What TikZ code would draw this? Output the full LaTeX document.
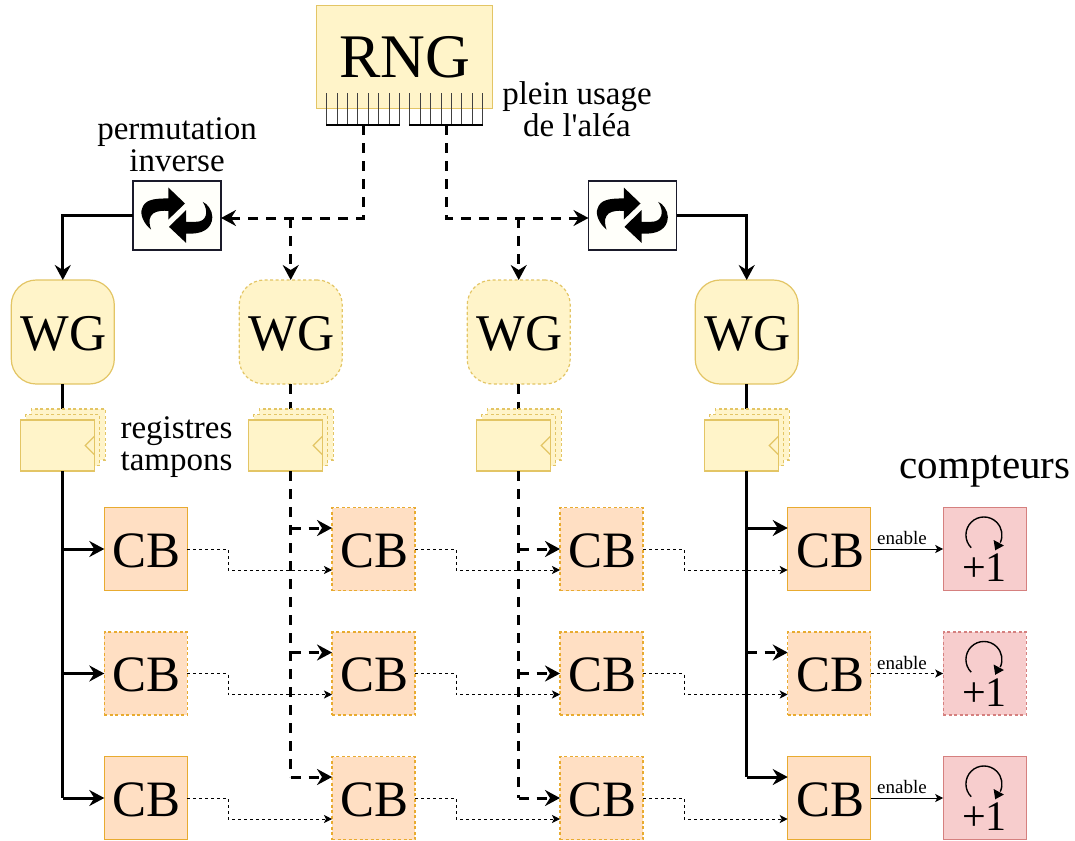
\documentclass[tikz,border=0pt]{standalone}
\usepackage{fontspec}
\setmainfont[Ligatures=TeXOff]{Liberation Serif}
\usetikzlibrary{arrows.meta,calc}
\definecolor{yf}{HTML}{FFF4C9}
\definecolor{ys}{HTML}{E3C565}
\definecolor{of}{HTML}{FFDFC3}
\definecolor{os}{HTML}{E8AB30}
\definecolor{rf}{HTML}{F7CDCD}
\definecolor{rs}{HTML}{D5807F}
\definecolor{pb}{HTML}{1A1A2A}
\newcommand{\permicon}[1]{%
\begin{scope}[shift={(#1)},x=0.3333pt,y=-0.3333pt]
\fill (-26,-84) -- (24,-36) -- (-26,12) -- (-26,-14) .. controls (-60,-16) and (-95,-10) .. (-78,42) .. controls (-100,25) and (-112,-5) .. (-105,-20) .. controls (-98,-45) and (-75,-52) .. (-26,-51) -- cycle;
\fill (27,-16) -- (-24,34) -- (27,82) -- (27,54) .. controls (75,58) and (105,40) .. (106,5) .. controls (106,-15) and (92,-35) .. (77,-41) .. controls (95,-15) and (92,20) .. (55,19) -- (27,19) -- cycle;
\end{scope}}
\tikzset{
 x=1pt,y=-1pt,
 every node/.style={font=\fontsize{33}{33}\selectfont,inner sep=0pt,outer sep=0pt},
 yb/.style={draw=ys,fill=yf,line width=1.2pt},
 rngbox/.style={yb,minimum width=176pt,minimum height=103pt,font=\fontsize{62}{62}\selectfont},
 wgbox/.style={yb,rounded corners=25pt,minimum width=103pt,minimum height=104pt,text height=36pt,text depth=0pt,font=\fontsize{51.5}{51.5}\selectfont},
 regbox/.style={yb,minimum width=74pt,minimum height=51pt},
 regback/.style={regbox,dsh},
 cbbox/.style={draw=os,fill=of,line width=1.2pt,minimum width=83pt,minimum height=83pt,text height=36pt,text depth=0pt,font=\fontsize{51}{51}\selectfont},
 ctbox/.style={draw=rs,fill=rf,line width=1.2pt,minimum width=83pt,minimum height=83pt},
 dsh/.style={dash pattern=on 3pt off 2.5pt},
 permbox/.style={draw=pb,fill=white!98!yellow,line width=1.2pt,minimum width=88pt,minimum height=69pt},
 thick line/.style={line width=3pt,-{Stealth[length=15pt,width=16pt,inset=5pt]}},
 bigdash/.style={dash pattern=on 10pt off 8pt},
 plainline/.style={line width=3pt},
 thin link/.style={line width=1pt,-{Stealth[length=8pt,width=8pt,inset=2pt]}},
 thin dash/.style={thin link,dash pattern=on 3pt off 3pt},
 tick/.style={line width=1pt,black!75},
 lab/.style={align=center},
 en/.style={font=\fontsize{19}{19}\selectfont},
 plusone/.style={font=\fontsize{42}{42}\selectfont},
}
\begin{document}
\begin{tikzpicture}
\useasboundingbox (0,0) rectangle (1075,840);
\fill[white] (0,0) rectangle (1075,840);

\node[rngbox] (rng) at (404.7,57.3) {RNG};
\node[permbox] (p1) at (177,215.5) {};
\node[permbox] (p2) at (632.5,215.5) {};
\permicon{177,215.5}
\permicon{632.5,215.5}

\foreach \i/\cx/\d in {1/62.8/,2/290.7/dsh,3/518.7/dsh,4/746.7/}{
  \node[wgbox,\d] (wg\i) at (\cx,332) {\hspace*{1.5pt}WG};
}

\foreach \n/\cx/\cy/\d in {
 11/145.8/549/,12/145.8/673.5/dsh,13/145.8/798/,
 21/373.5/549/dsh,22/373.5/673.5/dsh,23/373.5/798/dsh,
 31/601.5/549/dsh,32/601.5/673.5/dsh,33/601.5/798/dsh,
 41/829.2/549/,42/829.2/673.5/dsh,43/829.2/798/}{
  \node[cbbox,\d] (cb\n) at (\cx,\cy) {\hspace*{2pt}CB};
}
\foreach \n/\cy/\d in {1/549/,2/673.5/dsh,3/798/}{
  \node[ctbox,\d] (ct\n) at (984.7,\cy) {};
  \node[plusone] (po\n) at (984.5,\cy+19) {+1};
  \coordinate (rc\n) at ($(ct\n.center)+(-0.8,-14)$);
  \draw[line width=1.4pt] ($(rc\n)+(-12.7,12.7)$) arc[start angle=225,end angle=-25,radius=18pt];
  \fill ($(rc\n)+(11.3,15.3)$) -- ($(rc\n)+(20,10.5)$) -- ($(rc\n)+(9.7,5)$) -- cycle;
}

\draw[plainline] (wg1.south) -- ($(wg1.south)+(0,36)$);
\draw[plainline,bigdash] (wg2.south) -- ($(wg2.south)+(0,36)$);
\draw[plainline,bigdash] (wg3.south) -- ($(wg3.south)+(0,36)$);
\draw[plainline] (wg4.south) -- ($(wg4.south)+(0,36)$);

\foreach \i/\cx in {1/62.8,2/290.7,3/518.7,4/746.7}{
  \node[regback] (rb\i) at (\cx-5.5+11,434.5) {};
  \node[regback] (rm\i) at (\cx-5.5+5.5,440) {};
  \node[regbox] (r\i) at (\cx-5.5,445.5) {};
  \draw[ys,line width=1.2pt] ($(r\i.east)+(0,-9)$) -- ($(r\i.east)+(-9,0)$) -- ($(r\i.east)+(0,9)$);
}

\draw[plainline] (r1.south -| wg1.south) -- (cb13.west -| wg1.south);
\draw[thick line] (cb11.west -| wg1.south) -- (cb11.west);
\draw[thick line] (cb12.west -| wg1.south) -- (cb12.west);
\draw[thick line] (cb13.west -| wg1.south) -- (cb13.west);

\draw[plainline,bigdash] (r2.south -| wg2.south) -- ($(cb23.west -| wg2.south)+(0,-21)$);
\draw[thick line,bigdash] ($(cb21.west -| wg2.south)+(0,-21)$) -- ($(cb21.west)+(0,-21)$);
\draw[thick line,bigdash] ($(cb22.west -| wg2.south)+(0,-21)$) -- ($(cb22.west)+(0,-21)$);
\draw[thick line,bigdash] ($(cb23.west -| wg2.south)+(0,-21)$) -- ($(cb23.west)+(0,-21)$);

\draw[plainline,bigdash] (r3.south -| wg3.south) -- (cb33.west -| wg3.south);
\draw[thick line,bigdash] (cb31.west -| wg3.south) -- (cb31.west);
\draw[thick line,bigdash] (cb32.west -| wg3.south) -- (cb32.west);
\draw[thick line,bigdash] (cb33.west -| wg3.south) -- (cb33.west);

\draw[plainline] (r4.south -| wg4.south) -- ($(cb43.west -| wg4.south)+(0,-21)$);
\draw[thick line] ($(cb41.west -| wg4.south)+(0,-21)$) -- ($(cb41.west)+(0,-21)$);
\draw[thick line,bigdash] ($(cb42.west -| wg4.south)+(0,-21)$) -- ($(cb42.west)+(0,-21)$);
\draw[thick line] ($(cb43.west -| wg4.south)+(0,-21)$) -- ($(cb43.west)+(0,-21)$);

\foreach \a/\b in {11/21,21/31,31/41,12/22,22/32,32/42,13/23,23/33,33/43}{
  \draw[thin dash] (cb\a.east) -- ++(41,0) |- ($(cb\b.west)+(0,21)$);
}

\draw[thin link] (cb41.east) -- node[en,above=4pt,xshift=-5pt] {enable} (ct1.west);
\draw[thin dash] (cb42.east) -- node[en,above=4pt,xshift=-5pt] {enable} (ct2.west);
\draw[thin link] (cb43.east) -- node[en,above=4pt,xshift=-5pt] {enable} (ct3.west);

\foreach \x in {326.7,337,347.5,357.7,368.5,378.5,389,399.5,409.7,420,430.5,441,451,461.5,472,482.5}{
  \draw[tick] (\x,93.5) -- (\x,125);
}
\coordinate (busa) at (363,125);
\coordinate (busb) at (446,125);
\draw[line width=2.5pt] (326,125) -- (400,125);
\draw[line width=2.5pt] (409,125) -- (483,125);

\coordinate (ja) at (363,218);
\coordinate (jb) at (446,218);
\draw[thick line,bigdash] (busa) -- (ja) -- (p1.east |- ja);
\draw[thick line,bigdash] (wg2.north |- ja) -- (wg2.north);
\draw[thick line,bigdash] (busb) -- (jb) -- (p2.west |- jb);
\draw[thick line,bigdash] (wg3.north |- jb) -- (wg3.north);
\draw[thick line] (p1.west) -| (wg1.north);
\draw[thick line] (p2.east) -| (wg4.north);

\node[lab] (t1) at (577,114) {\strut plein usage\\[-1pt]\strut de l'aléa};
\node[lab] (t2) at (177,149) {\strut permutation\\[-1pt]\strut inverse};
\node[lab] (t3) at (176.5,448) {\strut registres\\[-1pt]\strut tampons};
\node[font=\fontsize{41}{41}\selectfont] (t4) at (985,471) {compteurs};
\end{tikzpicture}
\end{document}
